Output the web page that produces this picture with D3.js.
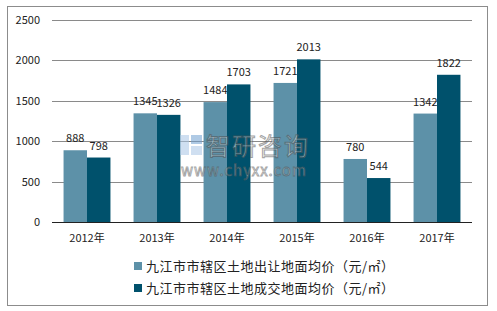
<!DOCTYPE html>
<html>
<head>
<meta charset="utf-8">
<script src="https://cdn.jsdelivr.net/npm/d3@7"></script>
<style>
  body { margin: 0; background: #fff; }
  text { font-family: "Noto Sans CJK SC", "Noto Sans", sans-serif; }
</style>
</head>
<body>
<div id="chart"></div>
<script>
var years = ['2012年', '2013年', '2014年', '2015年', '2016年', '2017年'];
var transferPrice = [888, 1345, 1484, 1721, 780, 1342];
var dealPrice = [798, 1326, 1703, 2013, 544, 1822];
var seriesNames = ['九江市市辖区土地出让地面均价（元/㎡）', '九江市市辖区土地成交地面均价（元/㎡）'];
var yTicks = [0, 500, 1000, 1500, 2000, 2500];

var colors = ['#5d91a8', '#00516c'];

var width = 497,
    height = 311;

var margin = { top: 20, right: 25, bottom: 89, left: 52 };

var svg = d3.select('#chart')
    .append('svg')
    .attr('width', width)
    .attr('height', height);

// outer frame
svg.append('rect')
    .attr('x', 7.5)
    .attr('y', 6.5)
    .attr('width', 480)
    .attr('height', 299)
    .attr('fill', 'none')
    .attr('stroke', '#8c8c8c')
    .attr('stroke-width', 1);

var x0 = d3.scaleBand()
    .domain(years)
    .range([margin.left, width - margin.right])
    .paddingInner(0.33)
    .paddingOuter(0.165);

var x1 = d3.scaleBand()
    .domain([0, 1])
    .range([0, x0.bandwidth()]);

var y = d3.scaleLinear()
    .domain([0, 2500])
    .range([222, 20]);

// gridlines
svg.append('g')
    .selectAll('line')
    .data(yTicks.slice(1))
    .enter()
    .append('line')
    .attr('x1', margin.left)
    .attr('x2', width - margin.right)
    .attr('y1', d => Math.round(y(d)) + 0.5)
    .attr('y2', d => Math.round(y(d)) + 0.5)
    .attr('stroke', '#8a8a8a')
    .attr('stroke-width', 1);

// y labels
svg.append('g')
    .selectAll('text')
    .data(yTicks)
    .enter()
    .append('text')
    .attr('x', 40)
    .attr('y', d => y(d) + 4)
    .attr('text-anchor', 'end')
    .style('font-size', '11px')
    .attr('fill', '#222')
    .text(d => d);

var series = [transferPrice, dealPrice];

series.forEach(function (vals, s) {
    var g = svg.append('g');
    g.selectAll('rect')
        .data(vals)
        .enter()
        .append('rect')
        .attr('x', (d, i) => x0(years[i]) + x1(s))
        .attr('y', d => y(d))
        .attr('width', x1.bandwidth())
        .attr('height', d => y(0) - y(d))
        .attr('fill', colors[s]);

    g.selectAll('text')
        .data(vals)
        .enter()
        .append('text')
        .attr('x', (d, i) => x0(years[i]) + x1(s) + x1.bandwidth() / 2)
        .attr('y', d => y(d) - 8)
        .attr('text-anchor', 'middle')
        .style('font-size', '11px')
        .attr('fill', '#222')
        .text(d => d);
});

// watermark, drawn over the bars
var wm = svg.append('g').style('opacity', 0.55);
wm.append('rect').attr('x', 180).attr('y', 135).attr('width', 9).attr('height', 20).attr('fill', '#a9c6e6');
wm.append('rect').attr('x', 191).attr('y', 135).attr('width', 11).attr('height', 9).attr('fill', '#6f9fd0');
wm.append('rect').attr('x', 191).attr('y', 146).attr('width', 11).attr('height', 9).attr('fill', '#a9c6e6');
wm.append('text')
    .attr('x', 206).attr('y', 155)
    .style('font-size', '24px')
    .style('letter-spacing', '2px')
    .attr('fill', '#f0f0f0')
    .attr('stroke', '#555')
    .attr('stroke-width', 1)
    .text('智研咨询');
wm.append('text')
    .attr('x', 181).attr('y', 176)
    .style('font-size', '15px')
    .style('letter-spacing', '1px')
    .attr('fill', '#f0f0f0')
    .attr('stroke', '#555')
    .attr('stroke-width', 0.8)
    .text('www.chyxx.com');

// x axis line
svg.append('line')
    .attr('x1', margin.left)
    .attr('x2', width - margin.right)
    .attr('y1', y(0) + 0.5)
    .attr('y2', y(0) + 0.5)
    .attr('stroke', '#222')
    .attr('stroke-width', 1.2);

// x labels
svg.append('g')
    .selectAll('text')
    .data(years)
    .enter()
    .append('text')
    .attr('x', d => x0(d) + x0.bandwidth() / 2)
    .attr('y', 242)
    .attr('text-anchor', 'middle')
    .style('font-size', '11px')
    .attr('fill', '#222')
    .text(d => d);

// legend
var legend = svg.append('g')
    .selectAll('g')
    .data(seriesNames)
    .enter()
    .append('g')
    .attr('transform', (d, i) => 'translate(134,' + (266 + i * 22) + ')');

legend.append('rect')
    .attr('x', 0)
    .attr('y', -4)
    .attr('width', 8)
    .attr('height', 8)
    .attr('fill', (d, i) => colors[i]);

legend.append('text')
    .attr('x', 12)
    .attr('y', 5)
    .style('font-size', '13px')
    .style('letter-spacing', '0.5px')
    .attr('fill', '#222')
    .text(d => d);
</script>
</body>
</html>
